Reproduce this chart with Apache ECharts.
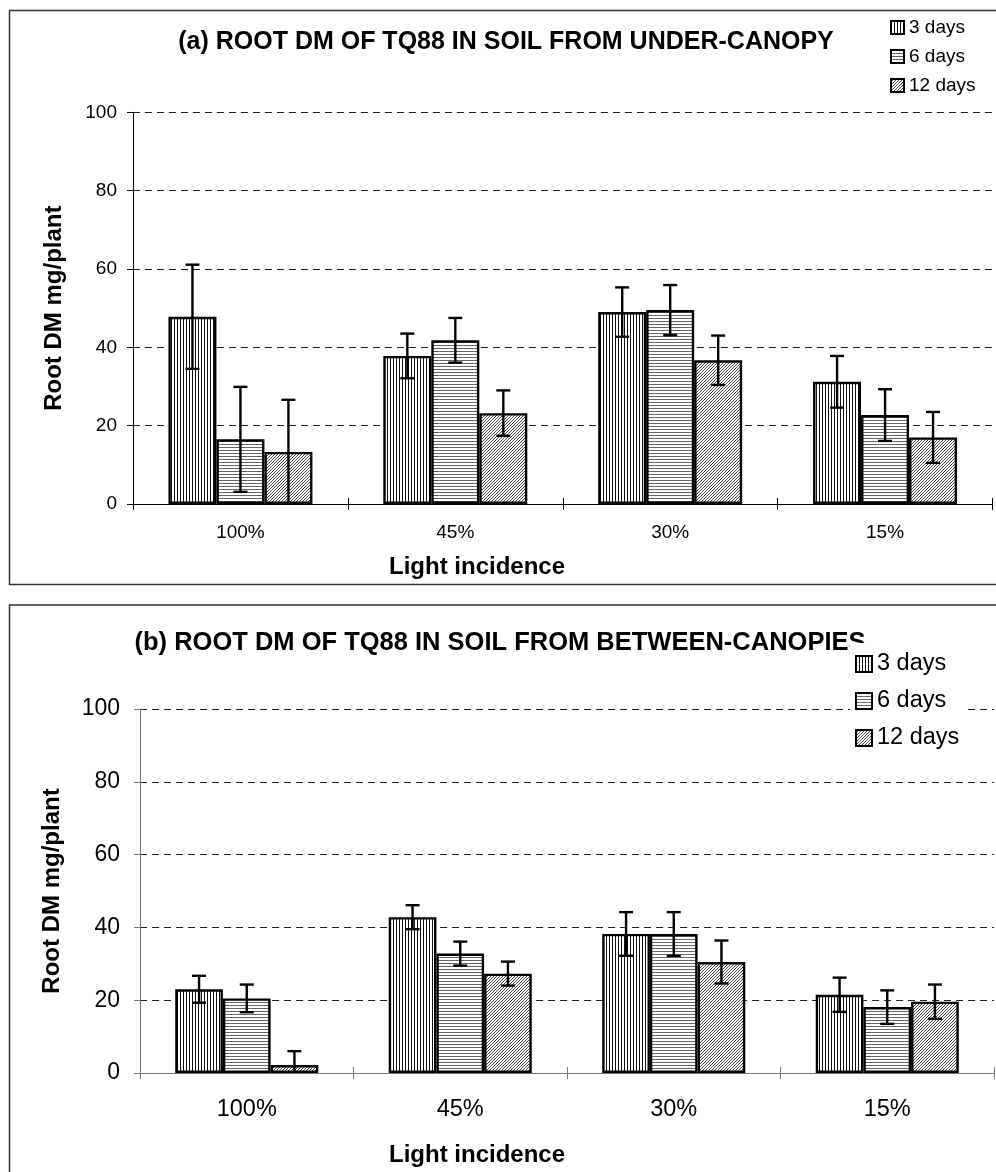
<!DOCTYPE html>
<html>
<head>
<meta charset="utf-8">
<script src="https://cdn.jsdelivr.net/npm/echarts@6/dist/echarts.min.js"></script>
<style>
  html, body { margin: 0; padding: 0; background: #fff; }
  #main { width: 996px; height: 1172px; }
</style>
</head>
<body>
<div id="main"></div>
<script>
// Light incidence levels on the category axis
const categories = ['100%', '45%', '30%', '15%'];
const seriesNames = ['3 days', '6 days', '12 days'];
const yMin = 0, yMax = 100, yStep = 20;

// (a) soil from under-canopy: root dry matter (mg/plant) and error half-widths
const underDays3 = [47.8, 37.8, 49.0, 31.2];
const underErr3  = [13.3, 5.7, 6.3, 6.6];
const underDays6 = [16.5, 41.8, 49.5, 22.7];
const underErr6  = [13.4, 5.7, 6.4, 6.6];
const underDays12 = [13.3, 23.2, 36.7, 17.0];
const underErr12  = [13.3, 5.8, 6.3, 6.5];

// (b) soil from between-canopies
const betweenDays3 = [23.0, 42.8, 38.2, 21.5];
const betweenErr3  = [3.7, 3.3, 6.0, 4.7];
const betweenDays6 = [20.5, 32.8, 38.2, 18.1];
const betweenErr6  = [3.8, 3.3, 6.0, 4.6];
const betweenDays12 = [2.2, 27.3, 30.5, 19.6];
const betweenErr12  = [3.8, 3.3, 5.9, 4.7];

const FONT = '"Liberation Sans", Arial, Helvetica, sans-serif';
const GAP = 0.33;

// Fill patterns: vertical stripes, horizontal stripes, diagonal hatch
function pattern(w, h, draw) {
  const c = document.createElement('canvas');
  c.width = w; c.height = h;
  const ctx = c.getContext('2d');
  ctx.fillStyle = '#fff';
  ctx.fillRect(0, 0, w, h);
  draw(ctx);
  return { image: c, repeat: 'repeat' };
}
const fills = [
  pattern(3, 3, ctx => { ctx.fillStyle = '#111'; ctx.fillRect(0, 0, 1, 3); }),
  pattern(3, 3, ctx => { ctx.fillStyle = '#666'; ctx.fillRect(0, 0, 3, 1); }),
  pattern(3, 3, ctx => {
    ctx.fillStyle = '#4a4a4a';
    ctx.fillRect(2, 0, 1, 1); ctx.fillRect(1, 1, 1, 1); ctx.fillRect(0, 2, 1, 1);
  })
];

function errRenderer(k) {
  return function (params, api) {
    const i = api.value(0), v = api.value(1), e = api.value(2);
    const hi = api.coord([i, v + e]);
    const lo = api.coord([i, Math.max(0, v - e)]);
    const band = api.size([1, 0])[0];
    const bw = band * (1 - GAP) / 3;
    const x = hi[0] + (k - 1) * bw;
    const cap = 7;
    const st = { stroke: '#000', lineWidth: 2.4 };
    const children = [
      { type: 'line', shape: { x1: x, y1: hi[1], x2: x, y2: lo[1] }, style: st },
      { type: 'line', shape: { x1: x - cap, y1: hi[1], x2: x + cap, y2: hi[1] }, style: st }
    ];
    if (v - e > 0) {
      children.push({ type: 'line', shape: { x1: x - cap, y1: lo[1], x2: x + cap, y2: lo[1] }, style: st });
    }
    return { type: 'group', children };
  };
}

const panels = [
  { vals: [underDays3, underDays6, underDays12], errs: [underErr3, underErr6, underErr12] },
  { vals: [betweenDays3, betweenDays6, betweenDays12], errs: [betweenErr3, betweenErr6, betweenErr12] }
];

const series = [];
panels.forEach((p, pi) => {
  p.vals.forEach((vals, k) => {
    series.push({
      type: 'bar', name: seriesNames[k],
      xAxisIndex: pi * 2, yAxisIndex: pi,
      data: vals,
      barGap: '0%', barCategoryGap: (GAP * 100) + '%',
      itemStyle: { color: fills[k], borderColor: '#000', borderWidth: 2.4 },
      emphasis: { disabled: true },
      z: 2
    });
  });
  p.vals.forEach((vals, k) => {
    series.push({
      type: 'custom', name: 'err' + pi + '_' + k,
      xAxisIndex: pi * 2, yAxisIndex: pi,
      data: vals.map((v, i) => [i, v, p.errs[k][i]]),
      encode: { x: 0, y: [1, 2] },
      renderItem: errRenderer(k),
      silent: true,
      z: 5
    });
  });
});

// Each panel has a labelled bottom axis with outward ticks plus a bare twin with inward ticks,
// so the category boundary ticks cross the axis line.
function xAxes(gi, axisColor, labelSize, labelMargin) {
  return [
    {
      type: 'category', gridIndex: gi, data: categories, position: 'bottom',
      axisLine: { lineStyle: { color: axisColor, width: 1 } },
      axisTick: { show: true, length: 6, inside: false, lineStyle: { color: axisColor } },
      axisLabel: { color: '#000', fontSize: labelSize, fontFamily: FONT, margin: labelMargin },
      splitLine: { show: false }
    },
    {
      type: 'category', gridIndex: gi, data: categories, position: 'bottom', offset: 0,
      axisLine: { show: false },
      axisTick: { show: true, length: 6, inside: true, lineStyle: { color: axisColor } },
      axisLabel: { show: false },
      splitLine: { show: false }
    }
  ];
}

function yAxis(gi, axisColor, labelSize, labelMargin, nameGap) {
  return {
    type: 'value', gridIndex: gi, min: yMin, max: yMax, interval: yStep,
    name: 'Root DM mg/plant', nameLocation: 'middle', nameGap: nameGap, nameRotate: 90,
    nameTextStyle: { color: '#000', fontSize: 24, fontWeight: 'bold', fontFamily: FONT },
    axisLine: { show: true, lineStyle: { color: axisColor, width: 1 } },
    axisTick: { show: true, length: 6, inside: false, lineStyle: { color: axisColor } },
    axisLabel: { color: '#000', fontSize: labelSize, fontFamily: FONT, margin: labelMargin },
    splitLine: { show: true, lineStyle: { color: '#222', type: [7, 5], width: 1 } }
  };
}

const chart = echarts.init(document.getElementById('main'), null, { renderer: 'canvas' });
chart.setOption({
  animation: false,
  backgroundColor: '#fff',
  title: [
    {
      text: '(a) ROOT DM OF TQ88 IN SOIL FROM UNDER-CANOPY',
      left: 506, top: 30, textAlign: 'center', padding: 0, z: 1,
      textStyle: { fontSize: 25, fontWeight: 'bold', color: '#000', fontFamily: FONT }
    },
    {
      text: '(b) ROOT DM OF TQ88 IN SOIL FROM BETWEEN-CANOPIES',
      left: 500, top: 630, textAlign: 'center', padding: 0, z: 1,
      textStyle: { fontSize: 25.5, fontWeight: 'bold', color: '#000', fontFamily: FONT }
    }
  ],
  legend: [
    {
      data: seriesNames, orient: 'vertical', left: 885, top: 13, padding: 5,
      icon: 'rect', itemWidth: 13, itemHeight: 13, itemGap: 10,
      itemStyle: { borderColor: '#000', borderWidth: 2 },
      textStyle: { color: '#000', fontSize: 19, fontFamily: FONT },
      selectedMode: false
    },
    {
      data: seriesNames, orient: 'vertical', left: 850, top: 643, padding: [9, 5, 5, 5],
      icon: 'rect', itemWidth: 16, itemHeight: 16, itemGap: 13,
      backgroundColor: '#fff', z: 10,
      itemStyle: { borderColor: '#000', borderWidth: 2 },
      textStyle: { color: '#000', fontSize: 23.5, fontFamily: FONT },
      selectedMode: false
    }
  ],
  grid: [
    { left: 133, top: 112.3, width: 859.5, height: 391.7, containLabel: false },
    { left: 140, top: 709, width: 854, height: 364, containLabel: false }
  ],
  xAxis: [].concat(xAxes(0, '#000', 19, 19), xAxes(1, '#777', 23.5, 25)),
  yAxis: [yAxis(0, '#000', 19, 16, 67), yAxis(1, '#777', 23, 20, 76)],
  series: series,
  graphic: [
    { type: 'rect', shape: { x: 9.5, y: 10.5, width: 1000, height: 574 },
      style: { fill: null, stroke: '#333', lineWidth: 1.5 }, silent: true, z: 0 },
    { type: 'rect', shape: { x: 9.5, y: 605, width: 1000, height: 600 },
      style: { fill: null, stroke: '#333', lineWidth: 1.5 }, silent: true, z: 0 },
    { type: 'text', x: 477, y: 567,
      style: { text: 'Light incidence', fill: '#000', font: 'bold 24px ' + FONT,
               textAlign: 'center', textVerticalAlign: 'middle' }, silent: true },
    { type: 'text', x: 477, y: 1155,
      style: { text: 'Light incidence', fill: '#000', font: 'bold 24px ' + FONT,
               textAlign: 'center', textVerticalAlign: 'middle' }, silent: true }
  ]
});
</script>
</body>
</html>
